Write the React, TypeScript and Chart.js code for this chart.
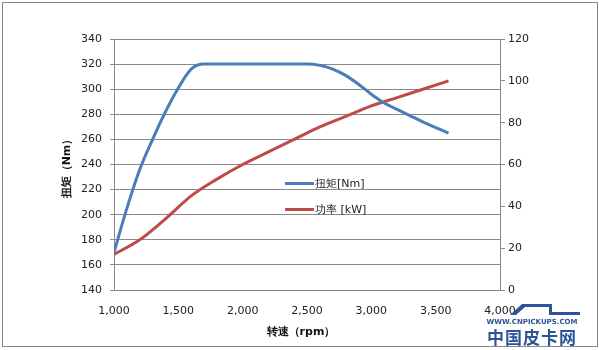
import React, { useEffect, useRef } from "react";
import { Chart, registerables } from "chart.js";

Chart.register(...registerables);

const rpmTorque = [1000, 1100, 1200, 1300, 1400, 1500, 1600, 1700, 2000, 2500, 2600, 2700, 2800, 2900, 3000, 3100, 3200, 3300, 3400, 3600];
const torqueNm = [170, 205, 236, 260, 282, 301, 316, 320, 320, 320, 319, 316, 311, 304, 296, 289, 284, 279, 274, 265];

const rpmPower = [1000, 1200, 1400, 1600, 1800, 2000, 2200, 2400, 2600, 2800, 3000, 3200, 3400, 3600];
const powerKw = [17, 24, 34, 45, 53, 60, 66, 72, 78, 83, 88, 92, 96, 100];

const xTicks = [1000, 1500, 2000, 2500, 3000, 3500, 4000];
const leftTicks = [140, 160, 180, 200, 220, 240, 260, 280, 300, 320, 340];
const rightTicks = [0, 20, 40, 60, 80, 100, 120];

const torqueLabel = "扭矩[Nm]";
const powerLabel = "功率 [kW]";
const xTitle = "转速（rpm）";
const yTitle = "扭矩（Nm）";

const BLUE = "#4A7EBB";
const RED = "#BE4B48";
const GRID = "#8a8a8a";
const FONT = "'DejaVu Sans', Verdana, sans-serif";

export default function App() {
  const ref = useRef<HTMLCanvasElement | null>(null);

  useEffect(() => {
    document.body.style.margin = "0";
    const ctx = ref.current!;
    const chart = new Chart(ctx, {
      type: "line",
      data: {
        datasets: [
          {
            label: torqueLabel,
            data: rpmTorque.map((x, i) => ({ x, y: torqueNm[i] })),
            borderColor: BLUE,
            borderWidth: 3,
            pointRadius: 0,
            cubicInterpolationMode: "monotone",
            yAxisID: "y",
          },
          {
            label: powerLabel,
            data: rpmPower.map((x, i) => ({ x, y: powerKw[i] })),
            borderColor: RED,
            borderWidth: 3,
            pointRadius: 0,
            cubicInterpolationMode: "monotone",
            yAxisID: "y1",
          },
        ],
      },
      options: {
        responsive: false,
        animation: false,
        layout: { padding: { left: 0, right: 0, top: 39, bottom: 0 } },
        plugins: { legend: { display: false }, tooltip: { enabled: false } },
        scales: {
          x: {
            type: "linear",
            min: 1000,
            max: 4000,
            afterBuildTicks: (s: any) => {
              s.ticks = xTicks.map((v) => ({ value: v }));
            },
            afterFit: (s: any) => {
              s.height = 60;
            },
            grid: { display: false, drawTicks: false },
            border: { display: true, color: GRID, width: 1 },
            ticks: {
              padding: 15,
              color: "#222",
              font: { family: FONT, size: 11 },
              callback: (v: any) => Number(v).toLocaleString("en-US"),
              maxRotation: 0,
            },
          },
          y: {
            position: "left",
            min: 140,
            max: 340,
            afterBuildTicks: (s: any) => {
              s.ticks = leftTicks.map((v) => ({ value: v }));
            },
            afterFit: (s: any) => {
              s.width = 114;
            },
            grid: { color: GRID, lineWidth: 1, tickLength: 4 },
            border: { display: true, color: GRID, width: 1 },
            ticks: { padding: 8, color: "#222", font: { family: FONT, size: 11 } },
          },
          y1: {
            position: "right",
            min: 0,
            max: 120,
            afterBuildTicks: (s: any) => {
              s.ticks = rightTicks.map((v) => ({ value: v }));
            },
            afterFit: (s: any) => {
              s.width = 99;
            },
            grid: { drawOnChartArea: false, color: GRID, tickLength: 5 },
            border: { display: true, color: GRID, width: 1 },
            ticks: { padding: 3, color: "#222", font: { family: FONT, size: 11 } },
          },
        },
      },
    });
    return () => chart.destroy();
  }, []);

  const legendRow = (color: string, text: string, top: number) => (
    <div style={{ position: "absolute", left: 285, top: top - 8, height: 16, display: "flex", alignItems: "center" }}>
      <div style={{ width: 29, height: 3, background: color }} />
      <span style={{ marginLeft: 1, fontFamily: FONT, fontSize: 11, color: "#222", whiteSpace: "nowrap" }}>{text}</span>
    </div>
  );

  return (
    <div style={{ position: "relative", width: 599, height: 350, background: "#fff" }}>
      <canvas ref={ref} width={599} height={350} style={{ position: "absolute", left: 0, top: 0 }} />
      <div style={{ position: "absolute", left: 2, top: 2, width: 594, height: 343, border: "1px solid #8a8a8a", pointerEvents: "none" }} />
      {legendRow(BLUE, torqueLabel, 183)}
      {legendRow(RED, powerLabel, 209)}
      <div
        style={{
          position: "absolute",
          left: 66,
          top: 166,
          transform: "translate(-50%, -50%) rotate(-90deg)",
          fontFamily: FONT,
          fontSize: 11,
          fontWeight: "bold",
          color: "#111",
          whiteSpace: "nowrap",
        }}
      >
        {yTitle}
      </div>
      <div
        style={{
          position: "absolute",
          left: 301,
          top: 331,
          transform: "translate(-50%, -50%)",
          fontFamily: FONT,
          fontSize: 11,
          fontWeight: "bold",
          color: "#111",
          whiteSpace: "nowrap",
        }}
      >
        {xTitle}
      </div>
      <svg style={{ position: "absolute", left: 500, top: 300 }} width={90} height={18}>
        <polygon points="10,15 22,4 52,4 52,12 80,12 80,15 49,15 49,7 25,7 16,15" fill="#2B5597" />
      </svg>
      <div
        style={{
          position: "absolute",
          left: 532,
          top: 322,
          transform: "translate(-50%, -50%)",
          fontFamily: "'DejaVu Sans', sans-serif",
          fontSize: 7,
          fontWeight: "bold",
          color: "#2B5597",
          whiteSpace: "nowrap",
        }}
      >
        WWW.CNPICKUPS.COM
      </div>
      <div
        style={{
          position: "absolute",
          left: 532,
          top: 337,
          transform: "translate(-50%, -50%)",
          fontFamily: "'Noto Sans CJK SC', sans-serif",
          fontSize: 17,
          fontWeight: "bold",
          color: "#2B5597",
          whiteSpace: "nowrap",
          letterSpacing: 1,
          lineHeight: "18px",
        }}
      >
        中国皮卡网
      </div>
    </div>
  );
}
